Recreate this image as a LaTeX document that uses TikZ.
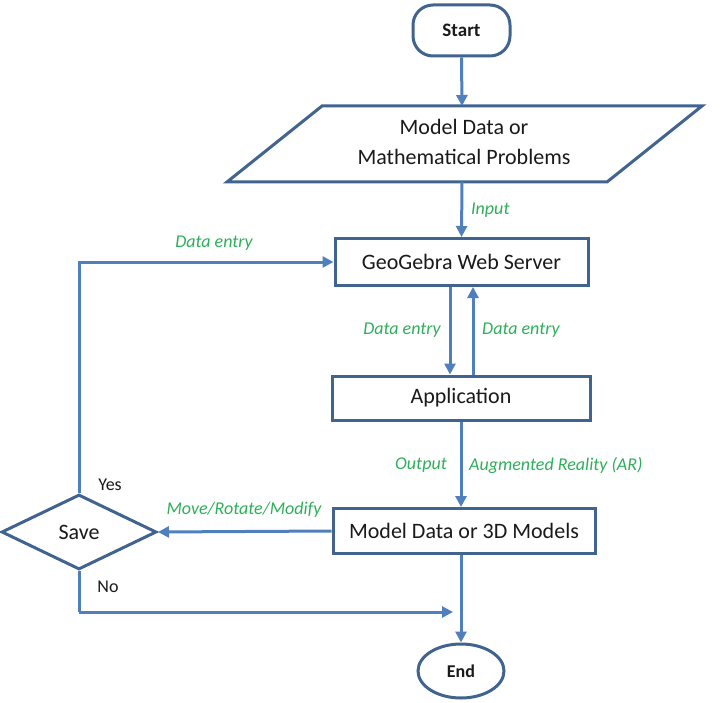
\documentclass[tikz,border=0pt]{standalone}
\usepackage{fontspec}
\setmainfont{Carlito}
\usetikzlibrary{arrows.meta,shapes.geometric}
\definecolor{shapeblue}{HTML}{41638F}
\definecolor{lineblue}{HTML}{4F7FBC}
\definecolor{lblgreen}{HTML}{2EAF5A}
\definecolor{txt}{HTML}{1A1A1A}
\tikzset{
  box/.style={draw=shapeblue, line width=3pt, fill=white, text=txt, font=\fontsize{22}{26}\selectfont, inner sep=0pt},
  conn/.style={draw=lineblue, line width=3pt, -{Triangle[length=11pt,width=11pt]}},
  plain/.style={draw=lineblue, line width=3pt},
  lbl/.style={text=lblgreen, font=\fontsize{18}{21}\selectfont\itshape, inner sep=0pt},
  yn/.style={text=txt, font=\fontsize{18}{21}\selectfont, inner sep=0pt},
}
\begin{document}
\begin{tikzpicture}[x=1pt,y=-1pt]
\useasboundingbox (0,0) rectangle (722,703);
% nodes
\node[box, rounded corners=20pt, minimum width=97pt, minimum height=51pt, font=\fontsize{19}{22}\selectfont\bfseries] (start) at (461.5,30.5) {Start};
\draw[draw=shapeblue, line width=3pt, fill=white] (322,106) -- (702,106) -- (607,182) -- (227,182) -- cycle;
\node[text=txt, font=\fontsize{22}{30}\selectfont, align=center, inner sep=0pt] (para) at (464,142) {Model Data or\\Mathematical Problems};
\coordinate (paratop) at (462,106);
\coordinate (parabot) at (462,182);
\node[box, minimum width=253pt, minimum height=47pt] (geo) at (461.5,262) {GeoGebra Web Server};
\node[box, minimum width=258pt, minimum height=44pt] (app) at (461,398) {Application};
\node[box, minimum width=262pt, minimum height=45pt] (model) at (464,531) {Model Data or 3D Models};
\node[box, shape=diamond, minimum width=155pt, minimum height=75pt, aspect=2] (save) at (79,532) {Save};
\node[box, shape=ellipse, minimum width=86pt, minimum height=54pt, font=\fontsize{18}{21}\selectfont\bfseries] (end) at (461,671) {End};
\coordinate (loopc) at (79,262);
\coordinate (noc) at (79,612);
\coordinate (join) at (453,612);
% connectors
\draw[conn] (start.south) -- (paratop);
\draw[conn] (parabot) -- (geo.north);
\draw[conn] (save.north) -- (loopc) -- (geo.west);
\draw[conn] ([xshift=-11.5pt]geo.south) -- ([xshift=-11pt]app.north);
\draw[conn] ([xshift=12pt]app.north) -- ([xshift=11.5pt]geo.south);
\draw[conn] (app.south) -- (app.south |- model.north);
\draw[conn] (model.west) -- (save.east);
\draw[plain] (save.south) -- (noc);
\draw[conn] (noc) -- (join);
\draw[conn] (model.south -| end.north) -- (end.north);
% labels
\node[lbl, anchor=west] (linput) at (471,210) {Input};
\node[lbl] (lde1) at (214,243) {Data entry};
\node[lbl] (lde2) at (402,330) {Data entry};
\node[lbl, anchor=west] (lde3) at (482,330) {Data entry};
\node[lbl] (lout) at (421,465) {Output};
\node[lbl, anchor=west] (lar) at (469,465) {Augmented Reality (AR)};
\node[lbl] (lmove) at (244,510) {Move/Rotate/Modify};
\node[yn] (lyes) at (110,485) {Yes};
\node[yn] (lno) at (108,587) {No};
\end{tikzpicture}
\end{document}
